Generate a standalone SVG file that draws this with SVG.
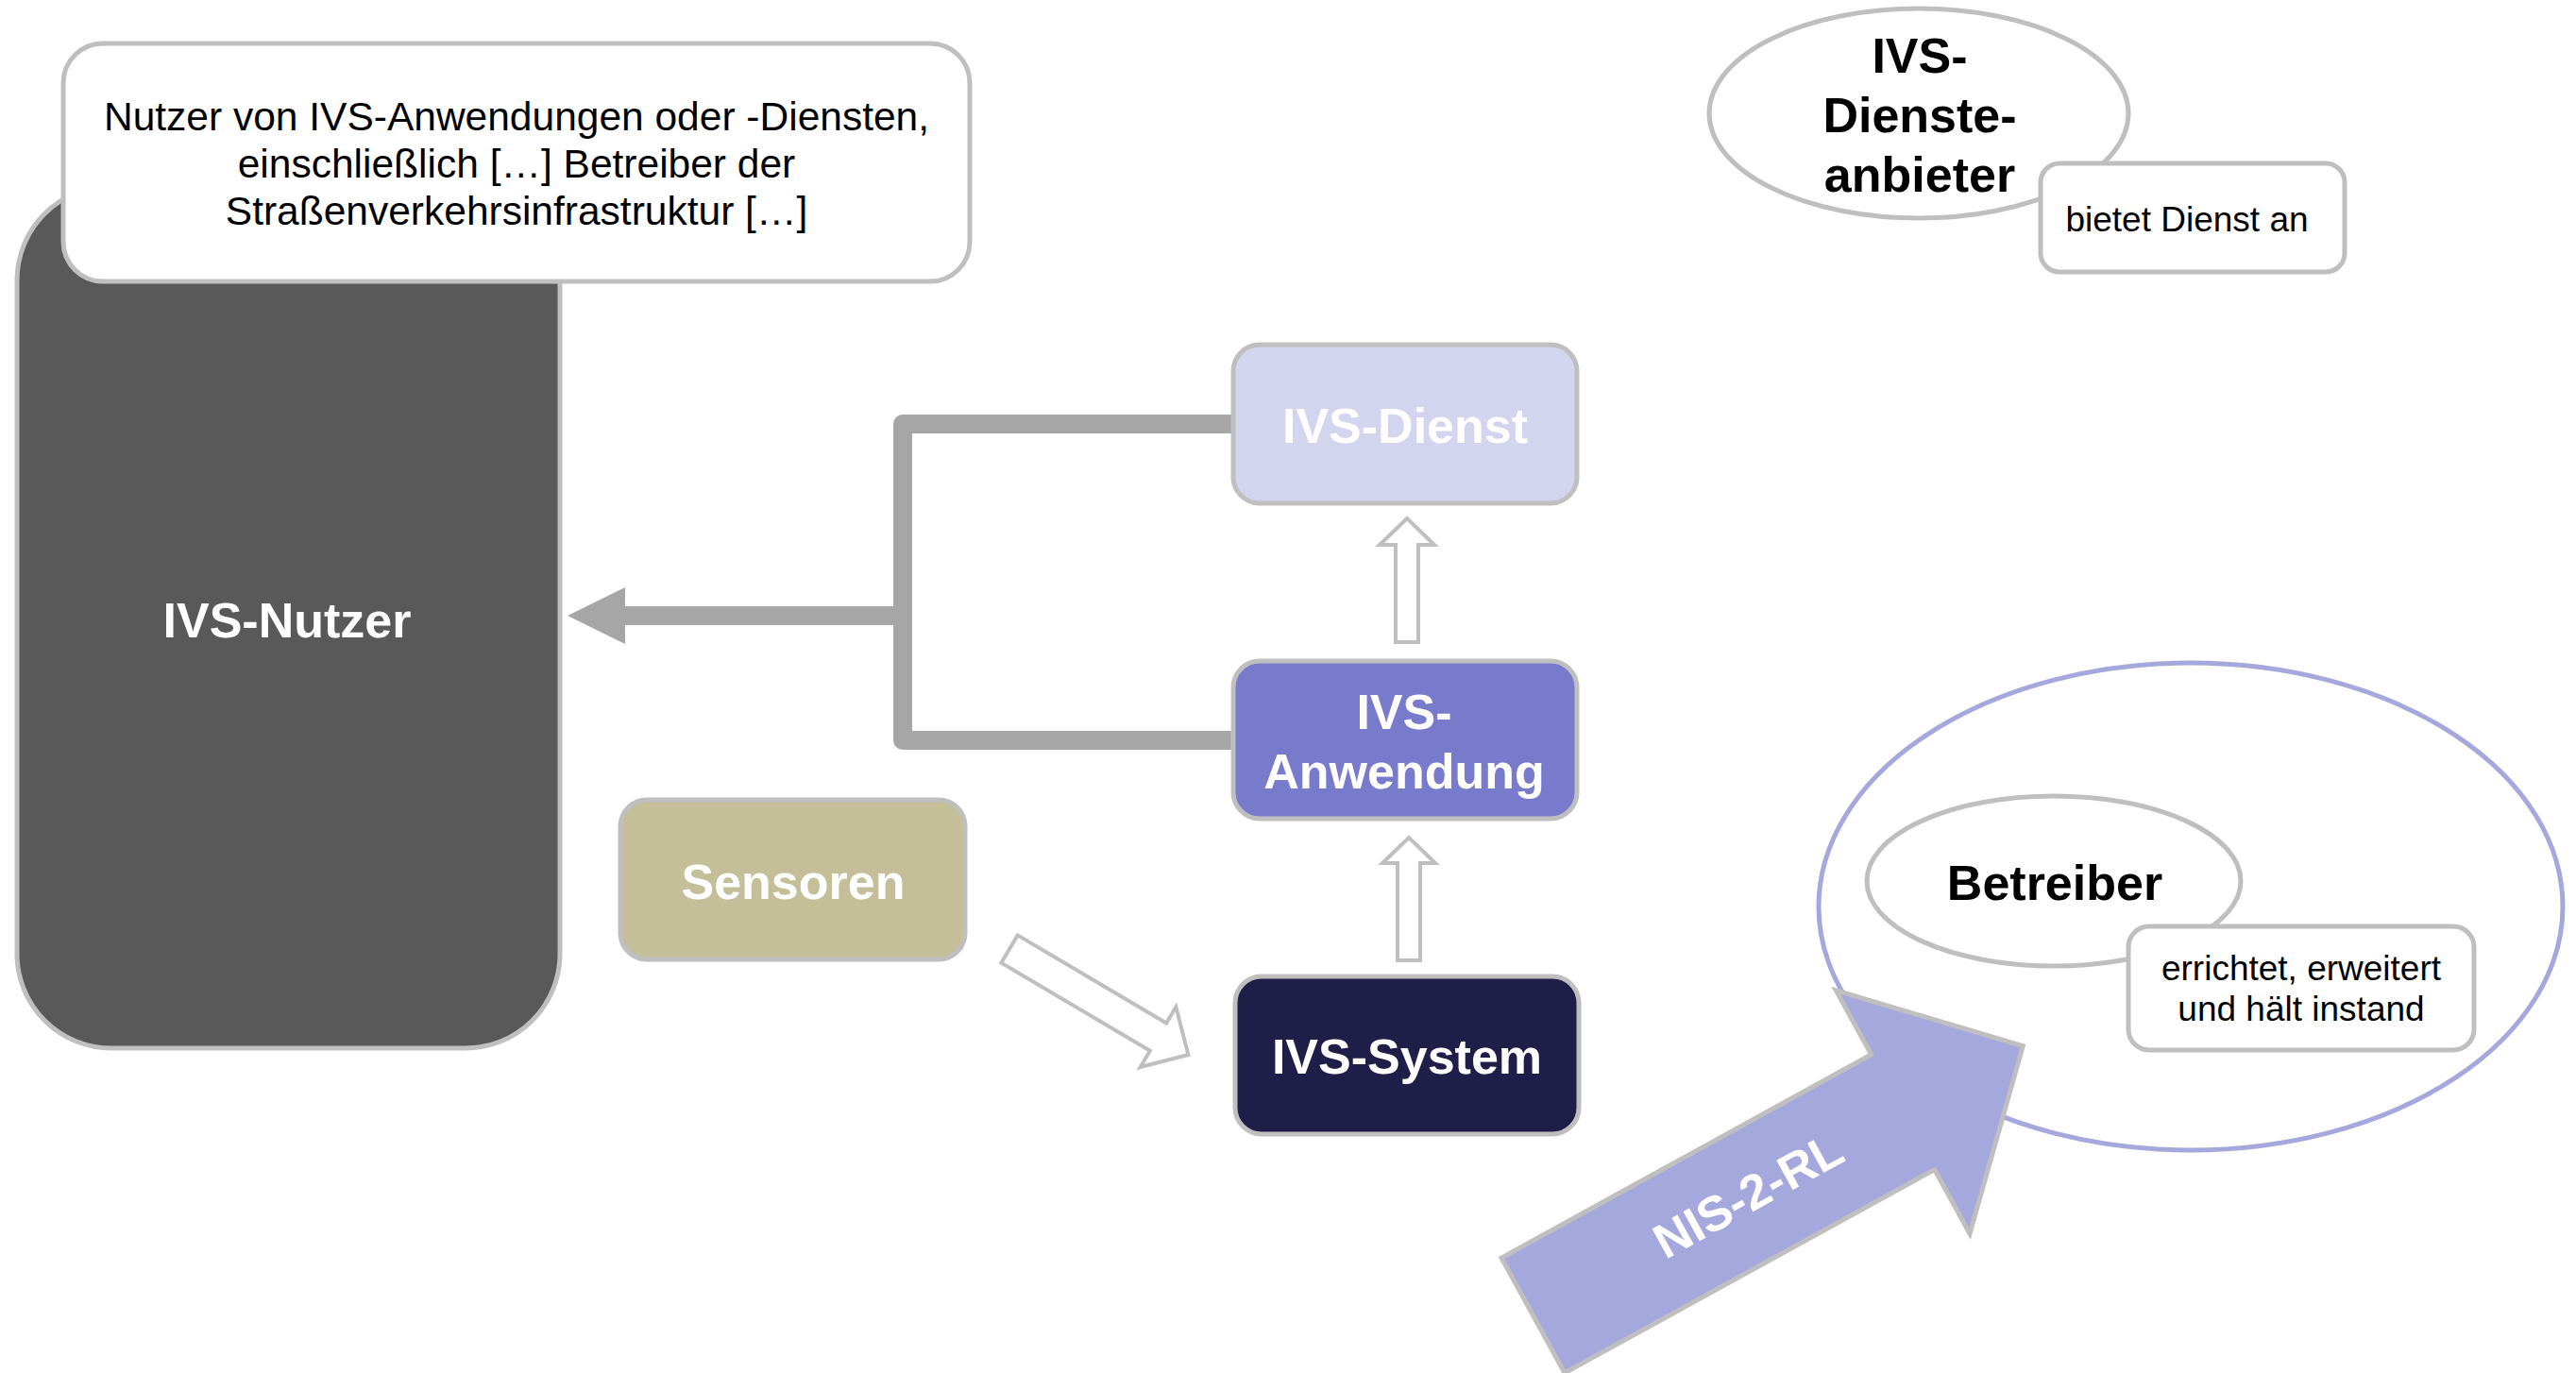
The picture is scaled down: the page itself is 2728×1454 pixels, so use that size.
<svg xmlns="http://www.w3.org/2000/svg" width="2728" height="1454" viewBox="0 0 2728 1454">
<style>
.box{stroke:#bfbfbf;stroke-width:5}
.t{font-family:"Liberation Sans",Arial,sans-serif;text-anchor:middle}
.b{font-weight:bold;font-size:52px}
.w{fill:#ffffff}
.k{fill:#000000}
.s{font-size:37px}
.hollow{fill:#ffffff;stroke:#bfbfbf;stroke-width:4;stroke-linejoin:miter}
</style>
<rect width="2728" height="1454" fill="#ffffff"/>

<g id="connectors">
  <path d="M1308,449 H956 V784 H1308" fill="none" stroke="#a6a6a6" stroke-width="20" stroke-linejoin="round"/>
  <path d="M956,652 H660" fill="none" stroke="#a6a6a6" stroke-width="20"/>
  <polygon points="662,622 601,652 662,682" fill="#a6a6a6"/>
  <polygon class="hollow" points="1490,549 1519,577 1502,577 1502,680 1478,680 1478,577 1461,577"/>
  <polygon class="hollow" points="1492,887 1520,914 1504,914 1504,1017 1480,1017 1480,914 1464,914"/>
  <polygon class="hollow" transform="translate(1069,1005) rotate(30.6)" points="0,-17 183,-17 183,-37 220,0 183,37 183,17 0,17"/>
</g>

<g id="nutzer">
  <rect class="box" x="18" y="197" width="575" height="913" rx="100" fill="#595959" stroke-width="4"/>
  <text class="t b w" x="304" y="675">IVS-Nutzer</text>
</g>

<g id="nutzer-definition">
  <rect class="box" x="67" y="46" width="960" height="252" rx="42" fill="#ffffff" stroke-width="4"/>
  <text class="t k" font-size="42.5" x="547" y="138">Nutzer von IVS-Anwendungen oder -Diensten,</text>
  <text class="t k" font-size="42.5" x="547" y="188">einschließlich […] Betreiber der</text>
  <text class="t k" font-size="42.5" x="547" y="238">Straßenverkehrsinfrastruktur […]</text>
</g>

<g id="ivs-dienst">
  <rect class="box" x="1306" y="365" width="364" height="168" rx="28" fill="#d3d4ee"/>
  <text class="t b w" x="1488" y="469">IVS-Dienst</text>
</g>

<g id="ivs-anwendung">
  <rect class="box" x="1306" y="700" width="364" height="167" rx="28" fill="#787acb"/>
  <text class="t b w" x="1487" y="772">IVS-</text>
  <text class="t b w" x="1487" y="835">Anwendung</text>
</g>

<g id="ivs-system">
  <rect class="box" x="1308" y="1034" width="364" height="167" rx="28" fill="#1e1e48"/>
  <text class="t b w" x="1490" y="1137">IVS-System</text>
</g>

<g id="sensoren">
  <rect class="box" x="657" y="847" width="365" height="169" rx="28" fill="#c4be99"/>
  <text class="t b w" x="840" y="952">Sensoren</text>
</g>

<g id="dienste-anbieter">
  <ellipse cx="2032" cy="120" rx="222" ry="111" fill="#ffffff" stroke="#bfbfbf" stroke-width="5"/>
  <text class="t b k" x="2033" y="77">IVS-</text>
  <text class="t b k" x="2033" y="140">Dienste-</text>
  <text class="t b k" x="2033" y="203">anbieter</text>
</g>

<g id="bietet-dienst-an">
  <rect class="box" x="2161" y="173" width="322" height="115" rx="20" fill="#ffffff"/>
  <text class="t s k" x="2316" y="245">bietet Dienst an</text>
</g>

<g id="nis2-scope">
  <ellipse cx="2320" cy="960" rx="394" ry="258" fill="#ffffff" stroke="#a5a8dc" stroke-width="5"/>
</g>

<g id="betreiber">
  <ellipse cx="2175" cy="933" rx="198" ry="90" fill="#ffffff" stroke="#bfbfbf" stroke-width="5"/>
  <text class="t b k" x="2176" y="953">Betreiber</text>
</g>

<g id="errichtet">
  <rect class="box" x="2254" y="981" width="366" height="131" rx="22" fill="#ffffff"/>
  <text class="t s k" x="2437" y="1038">errichtet, erweitert</text>
  <text class="t s k" x="2437" y="1081">und hält instand</text>
</g>

<g id="nis2-arrow" transform="translate(1623.5,1393) rotate(-28.8)">
  <polygon points="0,-69.5 447,-69.5 447,-147 592,0 447,147 447,69.5 0,69.5" fill="#a5a8dc" stroke="#bfbfbf" stroke-width="5"/>
  <text class="t b w" x="261" y="16">NIS-2-RL</text>
</g>
</svg>
